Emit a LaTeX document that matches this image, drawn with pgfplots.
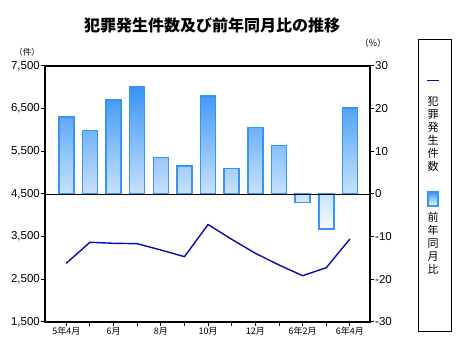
\documentclass[border=0pt]{standalone}
\usepackage{pgfplots}
\pgfplotsset{compat=1.18}
\usepackage{fontspec}
\setmainfont{Liberation Sans}
\newfontfamily\cjk{Noto Sans CJK JP}
\definecolor{barblue}{RGB}{55,148,245}
\definecolor{barlight}{RGB}{248,251,255}
\definecolor{linecol}{RGB}{10,10,180}

\begin{document}
\begin{tikzpicture}
\useasboundingbox (0pt,0pt) rectangle (463pt,358pt);
% bars: right axis (percent)
\begin{axis}[at={(45pt,36pt)}, anchor=south west, scale only axis,
  width=325pt, height=256pt,
  xmin=-0.9, xmax=12.85, ymin=-30, ymax=30,
  axis y line*=right, axis x line=none,
  ytick={-30,-20,...,30},
  tick align=outside, major tick length=4pt,
  axis line style={line width=1.8pt, black},
  major tick style={line width=1pt, black},
  yticklabel style={font=\fontsize{11.5}{11.5}\selectfont, inner xsep=1pt},
  /pgf/number format/assume math mode=true,
  clip=false]
\addplot[ybar, bar width=15pt, draw=barblue, line width=1.5pt,
  top color=barblue, bottom color=barlight]
  coordinates {(0,18.0) (1,14.9) (2,22.0) (3,25.1) (4,8.6) (5,6.6) (6,23.0)
               (7,6.0) (8,15.6) (9,11.4) (10,-2.0) (11,-8.2) (12,20.1)};
\addplot[black, line width=0.8pt] coordinates {(-0.9,0) (12.85,0)};
\end{axis}
% line: left axis (count)
\begin{axis}[at={(45pt,36pt)}, anchor=south west, scale only axis,
  width=325pt, height=256pt,
  xmin=-0.9, xmax=12.85, ymin=1500, ymax=7500,
  ytick={1500,2500,...,7500}, ytick pos=left,
  xtick={0,...,12}, xtick pos=left,
  xticklabels={5年4月,,6月,,8月,,10月,,12月,,6年2月,,6年4月},
  tick align=outside, major tick length=4pt,
  axis line style={line width=1.8pt, black},
  major tick style={line width=1pt, black},
  yticklabel style={font=\fontsize{11.5}{11.5}\selectfont, inner xsep=1pt},
  xticklabel style={font=\cjk\fontsize{9}{9}\selectfont, inner ysep=1pt},
  /pgf/number format/assume math mode=true]
\addplot[linecol, line width=1.4pt, mark=none]
  coordinates {(0,2876) (1,3368) (2,3345) (3,3335) (4,3188) (5,3031) (6,3785)
               (7,3438) (8,3110) (9,2836) (10,2585) (11,2773) (12,3446)};
\end{axis}
% title and units
\node[font=\cjk\bfseries\fontsize{16}{16}\selectfont] at (212pt,333pt) {犯罪発生件数及び前年同月比の推移};
\node[font=\cjk\fontsize{8.5}{8.5}\selectfont] at (27pt,306pt) {（件）};
\node[font=\cjk\fontsize{9}{9}\selectfont] at (373pt,315pt) {（\%）};
% legend
\draw[black, line width=0.8pt] (418pt,27pt) rectangle (451pt,319pt);
\draw[linecol, line width=0.8pt] (427pt,278pt) -- (439pt,278pt);
\node[font=\cjk\fontsize{11}{13}\selectfont, align=center, anchor=north, inner sep=0pt]
  at (433pt,262pt) {犯\\罪\\発\\生\\件\\数};
\draw[barblue, line width=1.5pt, top color=barblue, bottom color=barlight]
  (428pt,152pt) rectangle (438pt,166pt);
\node[font=\cjk\fontsize{11}{13}\selectfont, align=center, anchor=north, inner sep=0pt]
  at (433pt,146pt) {前\\年\\同\\月\\比};
\end{tikzpicture}
\end{document}
